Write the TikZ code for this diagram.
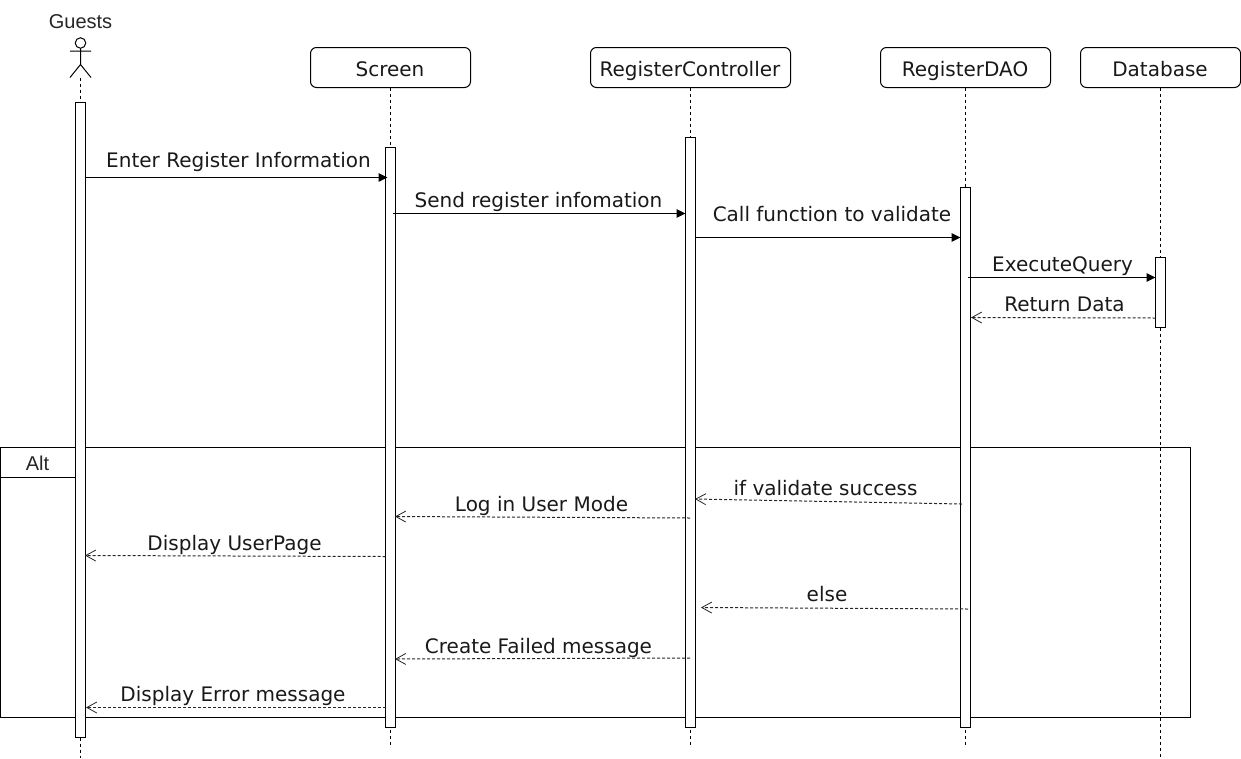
\documentclass[tikz,border=0pt]{standalone}
\usepackage{fontspec}
\setmainfont{DejaVu Sans}
\newfontfamily\guestfont{Liberation Sans}
\usetikzlibrary{arrows.meta}
\tikzset{
  head/.style={draw=black,line width=1pt,rounded corners=6pt,fill=white,minimum width=#1,minimum height=40pt,inner sep=0pt},
  headtext/.style={inner sep=0pt,anchor=base,text=black!90,font=\fontsize{20pt}{24pt}\selectfont},
  bar/.style={draw=black,line width=1pt,fill=white,minimum width=10pt,minimum height=#1,inner sep=0pt,outer sep=0pt},
  life/.style={line width=1pt,dash pattern=on 3pt off 3pt},
  msg/.style={line width=1pt,-{Triangle[length=9pt,width=8.5pt]}},
  ret/.style={line width=1pt,draw=black!85,dash pattern=on 3pt off 2pt,-{Straight Barb[length=10pt,width=11pt,line width=.8pt]}},
  lbl/.style={inner sep=0pt,anchor=base,text=black!90,font=\fontsize{20pt}{24pt}\selectfont},
  actortext/.style={inner sep=0pt,anchor=base,text=black!85,font=\guestfont\fontsize{20pt}{24pt}\selectfont},
}
\begin{document}
\begin{tikzpicture}[x=1pt,y=-1pt]
\useasboundingbox (0,0) rectangle (1241,758);
% frame
\node[draw=black,line width=1pt,minimum width=1190pt,minimum height=270pt,inner sep=0pt,outer sep=0pt,anchor=north west] (frame) at (0.5,447.5) {};
\coordinate (tabb) at (0,477.5);
\coordinate (tabc) at (76,477.5);
\draw[line width=1pt] (tabb) -- (tabc);
\node[actortext] (alt) at (37.5,470) {Alt};
% heads
\node[head=160pt] (screen) at (390.5,67.5) {};
\node[head=200pt] (ctrl) at (690.5,67.5) {};
\node[head=170pt] (dao) at (965.5,67.5) {};
\node[head=160pt] (db) at (1160.5,67.5) {};
\node[headtext] (screent) at (390,76) {Screen};
\node[headtext] (ctrlt) at (690,76) {RegisterController};
\node[headtext] (daot) at (965,76) {RegisterDAO};
\node[headtext] (dbt) at (1160,76) {Database};
% actor
\node[actortext] (guests) at (80.5,28) {Guests};
\node[draw=black,line width=1pt,circle,minimum size=10.5pt,inner sep=0pt,outer sep=0pt] (ahead) at (80.5,43) {};
\coordinate (ahip) at (80.5,64.5);
\coordinate (afoot) at (80.5,77.5);
\coordinate (aarml) at (70,51);
\coordinate (aarmr) at (91,51);
\coordinate (alegl) at (70,77.5);
\coordinate (alegr) at (91,77.5);
\draw[line width=1pt] (ahead.south) -- (ahip) (aarml) -- (aarmr) (alegl) -- (ahip) -- (alegr);
% lifeline ends
\coordinate (eg) at (80.5,758);
\coordinate (es) at (390.5,745);
\coordinate (ec) at (690.5,745);
\coordinate (ed) at (965.5,745);
\coordinate (eb) at (1160.5,758);
\draw[life] (afoot) -- (eg);
\draw[life] (screen.south) -- (es);
\draw[life] (ctrl.south) -- (ec);
\draw[life] (dao.south) -- (ed);
\draw[life] (db.south) -- (eb);
% activation bars
\node[bar=635pt,anchor=north] (bg) at (80.5,102.5) {};
\node[bar=580pt,anchor=north] (bs) at (390.5,147.5) {};
\node[bar=590pt,anchor=north] (bc) at (690.5,137.5) {};
\node[bar=540pt,anchor=north] (bd) at (965.5,187.5) {};
\node[bar=70pt,anchor=north] (bb) at (1160.5,257.5) {};
% message end points
\coordinate (m1a) at (85.5,177.5); \coordinate (m1b) at (387.5,177.5);
\coordinate (m2a) at (393,213.5); \coordinate (m2b) at (685.5,213.5);
\coordinate (m3a) at (695.5,237.5); \coordinate (m3b) at (960.5,237.5);
\coordinate (m4a) at (968,277.5); \coordinate (m4b) at (1155.5,277.5);
\coordinate (m5a) at (1155.5,318); \coordinate (m5b) at (971,317.5);
\coordinate (m6a) at (962,504); \coordinate (m6b) at (695,499);
\coordinate (m7a) at (690,518); \coordinate (m7b) at (395,516.5);
\coordinate (m8a) at (385.5,556.5); \coordinate (m8b) at (85,555.5);
\coordinate (m9a) at (968,609); \coordinate (m9b) at (701,607.5);
\coordinate (m10a) at (690,658); \coordinate (m10b) at (395,659);
\coordinate (m11a) at (386,707.5); \coordinate (m11b) at (86,707.5);
\draw[msg] (m1a) -- (m1b);
\draw[msg] (m2a) -- (m2b);
\draw[msg] (m3a) -- (m3b);
\draw[msg] (m4a) -- (m4b);
\draw[ret] (m5a) -- (m5b);
\draw[ret] (m6a) -- (m6b);
\draw[ret] (m7a) -- (m7b);
\draw[ret] (m8a) -- (m8b);
\draw[ret] (m9a) -- (m9b);
\draw[ret] (m10a) -- (m10b);
\draw[ret] (m11a) -- (m11b);
% labels
\node[lbl] (l1) at (238.5,167) {Enter Register Information};
\node[lbl] (l2) at (538.5,207) {Send register infomation};
\node[lbl] (l3) at (832,221) {Call function to validate};
\node[lbl] (l4) at (1062.5,271) {ExecuteQuery};
\node[lbl] (l5) at (1064.5,311) {Return Data};
\node[lbl] (l6) at (825.5,495) {if validate success};
\node[lbl] (l7) at (541.5,511) {Log in User Mode};
\node[lbl] (l8) at (234.5,550) {Display UserPage};
\node[lbl] (l9) at (827,601) {else};
\node[lbl] (l10) at (538.5,653) {Create Failed message};
\node[lbl] (l11) at (233,701) {Display Error message};
\end{tikzpicture}
\end{document}
